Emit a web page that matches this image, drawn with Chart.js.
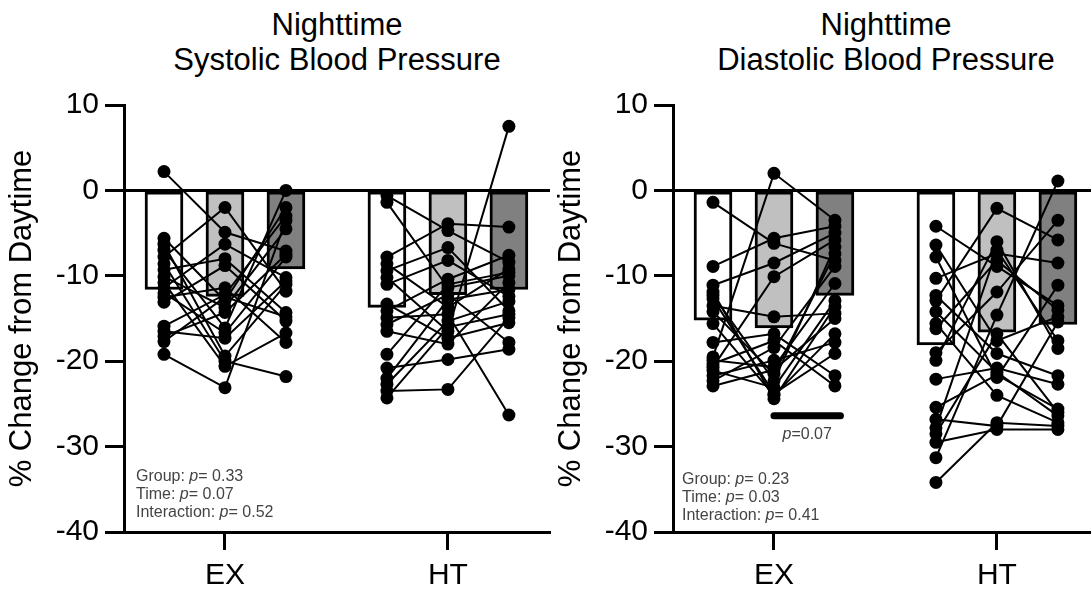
<!DOCTYPE html>
<html>
<head>
<meta charset="utf-8">
<script src="https://cdn.jsdelivr.net/npm/chart.js@4.4.1/dist/chart.umd.min.js"></script>
<style>
  html, body { margin: 0; padding: 0; background: #fff; overflow: hidden; }
  body { width: 1091px; height: 590px; position: relative; font-family: "Liberation Sans", Arial, sans-serif; }
  canvas { position: absolute; top: 0; }
  .title { position: absolute; top: 7px; width: 440px; text-align: center; font-size: 31px; line-height: 35px; color: #000; }
  .stats { position: absolute; font-size: 16px; line-height: 18px; color: #444; white-space: nowrap; }
</style>
</head>
<body>
<div class="title" style="left:117px">Nighttime<br>Systolic Blood Pressure</div>
<div class="title" style="left:666px">Nighttime<br>Diastolic Blood Pressure</div>
<canvas id="sysChart" width="560" height="590" style="left:0"></canvas>
<canvas id="diaChart" width="560" height="590" style="left:549px"></canvas>
<div class="stats" id="sysStats" style="left:136px; top:467px"></div>
<div class="stats" id="diaStats" style="left:682px; top:470px"></div>

<script>
// groups and x layout
const groups = ["EX", "HT"];
const groupPos = [2, 5.656];
const barOffset = [-1, 0, 1];
const barColors = ["#ffffff", "#c0c0c0", "#808080"];

// bar heights (group means), three timepoints
const sysBarEX = [-11.6, -12.4, -9.2];
const sysBarHT = [-13.7, -12.2, -11.6];
const diaBarEX = [-15.2, -16.1, -12.3];
const diaBarHT = [-18.1, -16.6, -15.7];

// individual subjects, systolic EX (t1, t2, t3)
const sysEX_t1 = [2.2, -5.6, -6.3, -7.0, -7.8, -8.6, -9.3, -10.1, -10.8, -11.4, -12.0, -12.5, -13.1, -15.9, -16.5, -17.1, -17.7, -19.2];
const sysEX_t2 = [-4.9, -12.9, -19.4, -16.1, -2.0, -20.0, -8.0, -13.7, -20.6, -6.3, -16.7, -11.4, -8.8, -12.2, -17.3, -14.3, -12.5, -23.1];
const sysEX_t3 = [-7.1, -2.0, -11.0, 0.0, -11.8, -21.8, -14.3, -4.5, -16.7, -10.2, -7.8, -17.8, -15.3, -3.0, -10.6, -7.5, -14.8, -3.5];

// systolic HT
const sysHT_t1 = [-0.6, -1.4, -7.8, -8.6, -9.4, -10.2, -11.0, -13.3, -14.1, -14.9, -15.7, -16.5, -19.2, -20.8, -22.0, -22.7, -23.5, -24.3];
const sysHT_t2 = [-4.7, -11.4, -3.9, -13.7, -6.7, -16.5, -8.2, -17.3, -10.4, -14.5, -12.2, -18.0, -11.0, -19.8, -12.8, -15.3, -23.3, -16.0];
const sysHT_t3 = [-8.4, -10.0, -4.3, -9.2, -14.1, 7.5, -12.4, -15.5, -7.6, -26.3, -17.8, -10.8, -9.6, -18.6, -11.6, -13.0, -14.9, -14.5];

// diastolic EX
const diaEX_t1 = [-1.4, -8.9, -11.1, -11.9, -12.3, -12.7, -13.5, -14.2, -15.6, -17.8, -19.5, -19.9, -20.3, -20.7, -21.1, -21.7, -22.3, -22.9];
const diaEX_t2 = [-6.2, -5.6, -8.5, -24.4, -22.3, -23.8, -14.8, -21.5, -24.0, -16.8, 2.0, -20.7, -17.6, -10.1, -23.1, -19.9, -18.4, -21.0];
const diaEX_t3 = [-8.2, -4.2, -5.0, -13.6, -6.6, -19.1, -14.4, -7.4, -16.8, -21.7, -3.5, -10.9, -22.9, -5.8, -12.9, -17.8, -8.9, -15.0];

// diastolic HT
const diaHT_t1 = [-4.2, -6.4, -7.8, -10.3, -12.3, -12.9, -14.2, -15.6, -16.2, -19.0, -19.9, -22.1, -25.4, -26.8, -27.8, -28.5, -29.5, -31.3, -34.2];
const diaHT_t2 = [-8.9, -17.6, -21.9, -7.4, -19.1, -2.1, -21.3, -24.0, -8.2, -11.9, -6.0, -20.8, -21.6, -27.6, -7.0, -16.8, -28.0, -14.6, -27.2];
const diaHT_t3 = [-13.5, -14.8, -11.1, -8.5, -21.7, -5.8, -26.4, -27.2, -14.0, -3.5, -18.5, -22.7, -25.6, -15.4, -17.6, -26.0, -28.0, 1.1, -27.6];

// significance bar between EX t2 and t3 (diastolic)
const sigBarX = [0, 1.09];
const sigBarY = -26.4;
const sigLabel = "0.07";

const sysStats = [["Group", "0.33"], ["Time", "0.07"], ["Interaction", "0.52"]];
const diaStats = [["Group", "0.23"], ["Time", "0.03"], ["Interaction", "0.41"]];

Chart.defaults.font.family = '"Liberation Sans", Arial, sans-serif';
Chart.defaults.color = "#000";

function subjectSets(series, g) {
  const out = [];
  for (let i = 0; i < series[0].length; i++) {
    out.push({
      type: "line",
      data: barOffset.map((o, t) => ({ x: groupPos[g] + o, y: series[t][i] })),
      borderColor: "#000",
      borderWidth: 2,
      tension: 0,
      pointRadius: 6.5,
      pointBackgroundColor: "#000",
      pointBorderWidth: 0,
      order: 1,
    });
  }
  return out;
}

function barSets(barsEX, barsHT) {
  return barOffset.map((o, t) => ({
    type: "bar",
    data: [
      { x: groupPos[0] + o, y: barsEX[t] },
      { x: groupPos[1] + o, y: barsHT[t] },
    ],
    backgroundColor: barColors[t],
    borderColor: "#000",
    borderWidth: 3,
    borderSkipped: false,
    barThickness: 38,
    grouped: false,
    order: 10,
  }));
}

const sigTextPlugin = {
  id: "sigText",
  afterDatasetsDraw(chart) {
    if (!chart.options.plugins.sigText.show) return;
    const { ctx, scales } = chart;
    const cx = (scales.x.getPixelForValue(groupPos[0] + sigBarX[0]) + scales.x.getPixelForValue(groupPos[0] + sigBarX[1])) / 2;
    const cy = scales.y.getPixelForValue(sigBarY) + 19;
    ctx.save();
    ctx.fillStyle = "#444";
    ctx.textBaseline = "middle";
    ctx.font = 'italic 16px "Liberation Sans", Arial, sans-serif';
    const w1 = ctx.measureText("p").width;
    ctx.font = '16px "Liberation Sans", Arial, sans-serif';
    const w2 = ctx.measureText("=" + sigLabel).width;
    const x0 = cx - (w1 + w2) / 2;
    ctx.font = 'italic 16px "Liberation Sans", Arial, sans-serif';
    ctx.fillText("p", x0, cy);
    ctx.font = '16px "Liberation Sans", Arial, sans-serif';
    ctx.fillText("=" + sigLabel, x0 + w1, cy);
    ctx.restore();
  },
};

function makePanel(id, exSeries, htSeries, barsEX, barsHT, withSig) {
  const datasets = [
    ...barSets(barsEX, barsHT),
    ...subjectSets(exSeries, 0),
    ...subjectSets(htSeries, 1),
  ];
  if (withSig) {
    datasets.push({
      type: "line",
      data: sigBarX.map((x) => ({ x: groupPos[0] + x, y: sigBarY })),
      borderColor: "#000",
      borderWidth: 7,
      borderCapStyle: "round",
      pointRadius: 0,
      order: 0,
    });
  }
  return new Chart(document.getElementById(id), {
    data: { datasets },
    plugins: [sigTextPlugin],
    options: {
      responsive: false,
      animation: false,
      layout: { padding: { top: 105, right: 10, bottom: 0, left: 0 } },
      plugins: { legend: { display: false }, tooltip: { enabled: false }, sigText: { show: withSig } },
      scales: {
        x: {
          type: "linear",
          offset: false,
          min: 0.344,
          max: 7.33,
          afterBuildTicks: (s) => { s.ticks = groupPos.map((v) => ({ value: v })); },
          afterFit: (s) => { s.height = 58; },
          ticks: {
            callback: (v, i) => groups[i],
            font: { size: 30 },
            color: "#000",
            padding: 8,
            maxRotation: 0,
            autoSkip: false,
          },
          grid: { offset: false, drawOnChartArea: false, drawTicks: true, tickLength: 18, tickWidth: 3, tickColor: "#000" },
          border: { display: true, width: 3, color: "#000" },
        },
        y: {
          min: -40,
          max: 10,
          afterFit: (s) => { s.width = 124; },
          ticks: { stepSize: 10, font: { size: 30 }, color: "#000", padding: 6 },
          grid: {
            color: (c) => (c.tick && c.tick.value === 0 ? "#000" : "rgba(0,0,0,0)"),
            lineWidth: 3,
            tickLength: 19,
            tickWidth: 3,
            tickColor: "#000",
          },
          border: { display: true, width: 3, color: "#000" },
          title: { display: true, text: "% Change from Daytime", font: { size: 31 }, color: "#000", padding: { top: 4, bottom: 0 } },
        },
      },
    },
  });
}

makePanel("sysChart", [sysEX_t1, sysEX_t2, sysEX_t3], [sysHT_t1, sysHT_t2, sysHT_t3], sysBarEX, sysBarHT, false);
makePanel("diaChart", [diaEX_t1, diaEX_t2, diaEX_t3], [diaHT_t1, diaHT_t2, diaHT_t3], diaBarEX, diaBarHT, true);

function fillStats(id, rows) {
  document.getElementById(id).innerHTML = rows.map((r) => `${r[0]}: <i>p</i>= ${r[1]}`).join("<br>");
}
fillStats("sysStats", sysStats);
fillStats("diaStats", diaStats);
</script>
</body>
</html>
